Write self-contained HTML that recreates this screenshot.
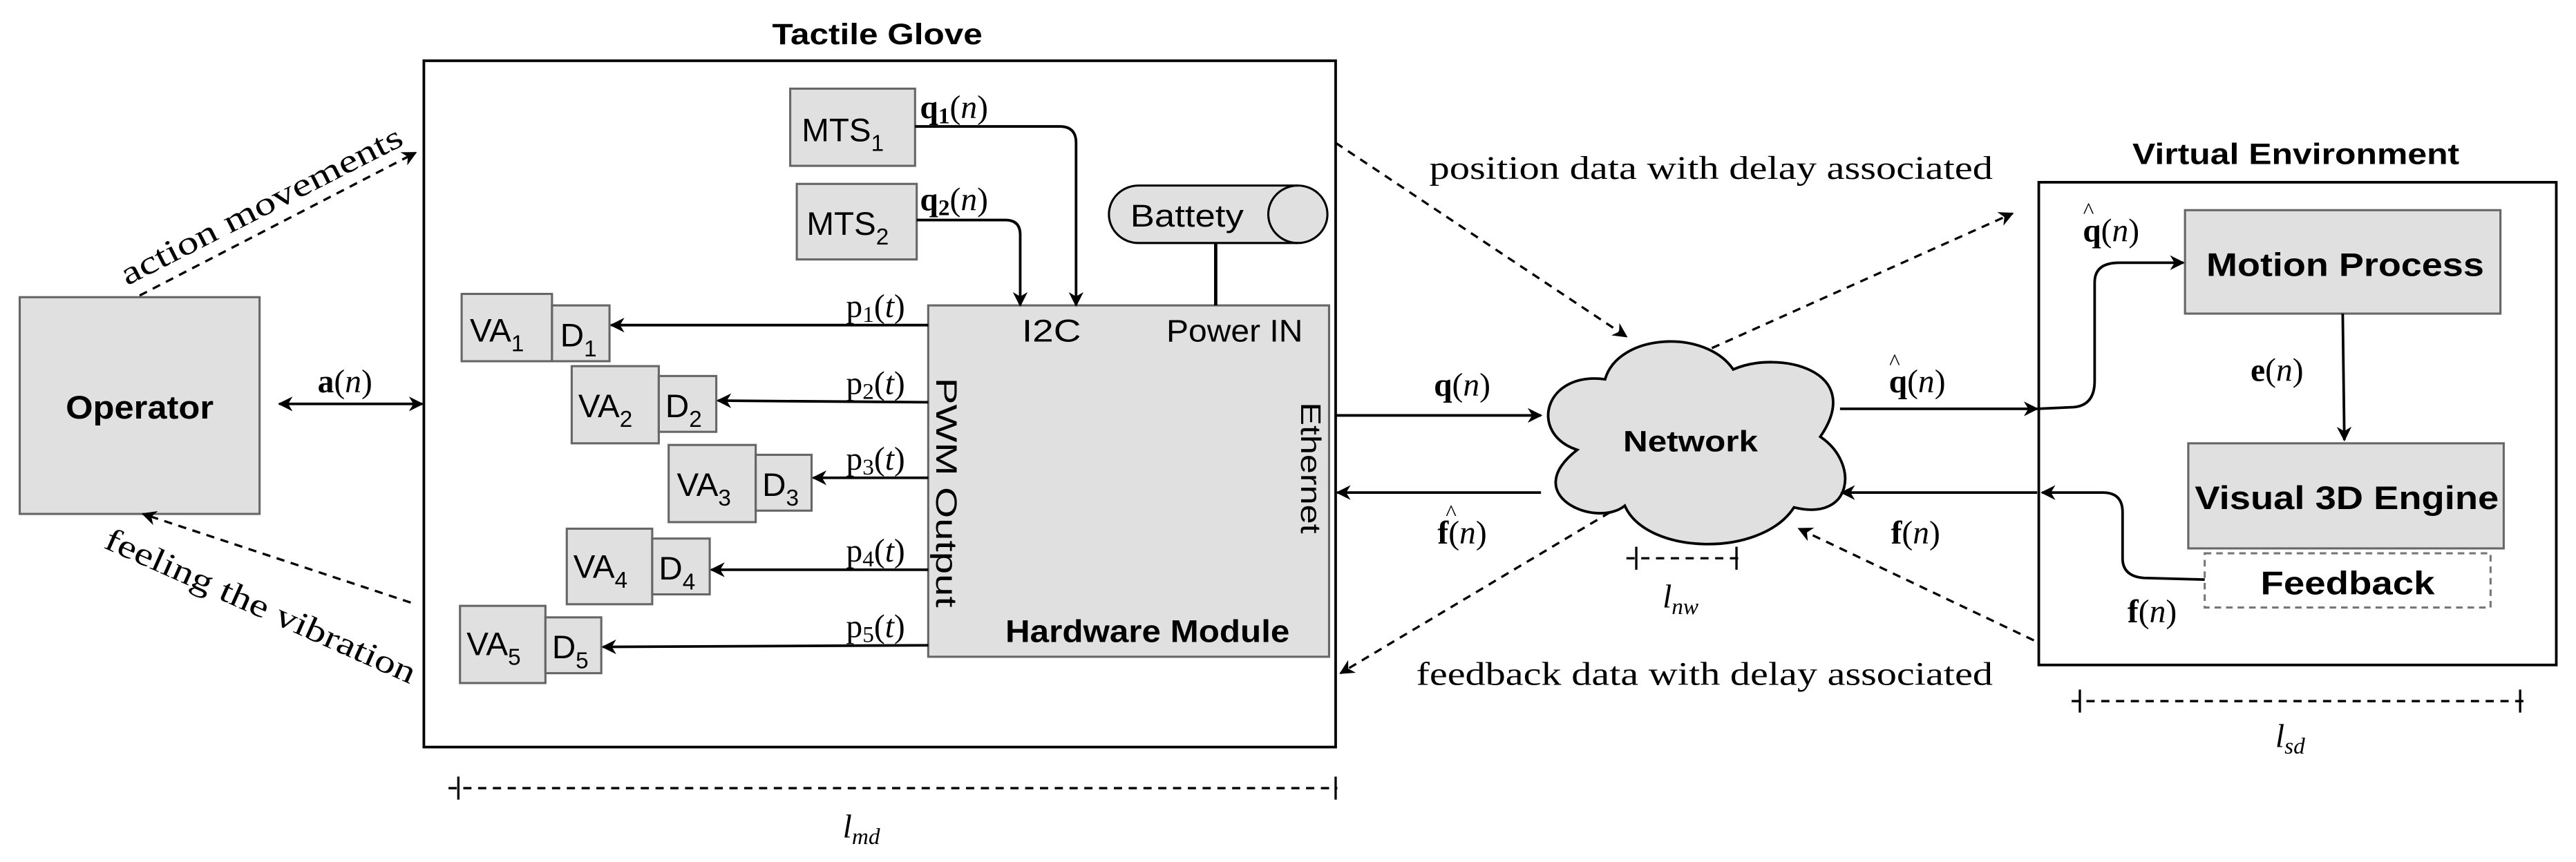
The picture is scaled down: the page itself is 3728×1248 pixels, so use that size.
<!DOCTYPE html>
<html><head><meta charset="utf-8"><style>
html,body{margin:0;padding:0;background:#fff;}
svg{display:block;}
.s{font-family:"Liberation Sans",sans-serif;}
.r{font-family:"Liberation Serif",serif;}
</style></head><body>
<svg width="3728" height="1248" viewBox="0 0 1568 525" preserveAspectRatio="none" xmlns="http://www.w3.org/2000/svg">
<defs>
<marker id="a" viewBox="0 0 10 10" refX="9" refY="5" markerWidth="9" markerHeight="9" markerUnits="userSpaceOnUse" orient="auto-start-reverse"><path d="M0,0 L10,5 L0,10 L3,5 z" fill="#000"/></marker>
</defs>
<rect width="1568" height="525" fill="#fff"/>
<g stroke="#666" stroke-width="1.3" fill="#e0e0e0">
<rect x="12" y="181" width="146" height="132"/>
<rect x="481" y="54" width="76" height="47"/>
<rect x="485" y="112" width="73" height="46"/>
<rect x="565" y="186" width="244" height="214"/>
<rect x="281" y="179" width="55" height="41"/><rect x="336" y="186" width="35" height="34"/>
<rect x="348" y="223" width="53" height="47"/><rect x="401" y="229" width="35" height="34"/>
<rect x="407" y="271" width="53" height="47"/><rect x="460" y="277" width="34" height="34"/>
<rect x="345" y="322" width="52" height="46"/><rect x="397" y="328" width="35" height="34"/>
<rect x="280" y="369" width="52" height="47"/><rect x="332" y="376" width="34" height="34"/>
<rect x="1330" y="128" width="192" height="63"/>
<rect x="1332" y="270" width="192" height="64"/>
</g>
<rect x="1342" y="337" width="174" height="33" fill="#fff" stroke="#777" stroke-width="1.3" stroke-dasharray="4,3"/>
<g fill="none" stroke="#000" stroke-width="1.6">
<rect x="258" y="37" width="555" height="418"/>
<rect x="1241" y="111" width="315" height="294"/>
</g>
<path d="M693,113 H790 A18,17.5 0 0 1 790,148 H693 A18,17.5 0 0 1 693,113 Z" fill="#e0e0e0" stroke="#000" stroke-width="1.3"/>
<path d="M790,113 A18,17.5 0 0 0 790,148" fill="none" stroke="#000" stroke-width="1.3"/>
<line x1="740" y1="148" x2="740" y2="186" stroke="#000" stroke-width="2"/>
<path d="M977,231 C985,203 1038,200 1055,225 C1082,213 1136,225 1108,266 C1132,282 1128,318 1092,309 C1072,340 1002,338 989,308 C972,322 924,302 960,274 C930,264 940,226 977,231 Z" fill="#e0e0e0" stroke="#000" stroke-width="1.6"/>
<g fill="none" stroke="#000" stroke-width="1.6" marker-end="url(#a)">
<path d="M557,77 H645 Q655,77 655,87 V186"/>
<path d="M558,134 H612 Q621,134 621,143 V186"/>
<line x1="565" y1="198" x2="372" y2="198"/>
<line x1="565" y1="245" x2="437" y2="244"/>
<line x1="565" y1="291" x2="495" y2="291"/>
<line x1="565" y1="347" x2="433" y2="347"/>
<line x1="565" y1="393" x2="367" y2="394"/>
<line x1="813" y1="253" x2="938" y2="253"/>
<line x1="938" y1="300" x2="814" y2="300"/>
<line x1="1120" y1="249" x2="1240" y2="249"/>
<path d="M1240,249 L1262,248 Q1275,247 1275,232 V172 Q1275,160 1290,160 H1329"/>
<line x1="1240" y1="300" x2="1121" y2="300"/>
<path d="M1342,353 L1305,352 Q1292,351 1292,340 V312 Q1292,300 1280,300 H1243"/>
<line x1="1426" y1="191" x2="1427" y2="268"/>
<line x1="170" y1="246" x2="257" y2="246" marker-start="url(#a)"/>
</g>
<g fill="none" stroke="#000" stroke-width="1.4" stroke-dasharray="5,4" marker-end="url(#a)">
<line x1="85" y1="180" x2="253" y2="93"/>
<line x1="250" y1="367" x2="87" y2="313"/>
<line x1="813" y1="87" x2="990" y2="205"/>
<line x1="1042" y1="212" x2="1225" y2="130"/>
<line x1="1238" y1="390" x2="1095" y2="322"/>
<line x1="980" y1="312" x2="816" y2="410"/>
</g>
<g fill="none" stroke="#000" stroke-width="1.4">
<line x1="273" y1="480" x2="814" y2="480" stroke-dasharray="5,4"/>
<line x1="279" y1="473" x2="279" y2="487"/><line x1="813" y1="473" x2="813" y2="487"/>
<line x1="990" y1="340" x2="1058" y2="340" stroke-dasharray="5,4"/>
<line x1="996" y1="333" x2="996" y2="347"/><line x1="1057" y1="333" x2="1057" y2="347"/>
<line x1="1261" y1="427" x2="1536" y2="427" stroke-dasharray="5,4"/>
<line x1="1266" y1="420" x2="1266" y2="434"/><line x1="1534" y1="420" x2="1534" y2="434"/>
</g>
<g class="s" fill="#000" lengthAdjust="spacingAndGlyphs">
<text x="470" y="27" font-size="18" font-weight="bold" textLength="128" lengthAdjust="spacingAndGlyphs">Tactile Glove</text>
<text x="1298" y="100" font-size="18" font-weight="bold" textLength="199" lengthAdjust="spacingAndGlyphs">Virtual Environment</text>
<text x="40" y="255" font-size="20" font-weight="bold" textLength="90" lengthAdjust="spacingAndGlyphs">Operator</text>
<text x="1343" y="168" font-size="20" font-weight="bold" textLength="169" lengthAdjust="spacingAndGlyphs">Motion Process</text>
<text x="1336" y="310" font-size="20" font-weight="bold" textLength="185" lengthAdjust="spacingAndGlyphs">Visual 3D Engine</text>
<text x="1376" y="362" font-size="20" font-weight="bold" textLength="106" lengthAdjust="spacingAndGlyphs">Feedback</text>
<text x="988" y="275" font-size="18" font-weight="bold" textLength="82" lengthAdjust="spacingAndGlyphs">Network</text>
<text x="612" y="391" font-size="19" font-weight="bold" textLength="173" lengthAdjust="spacingAndGlyphs">Hardware Module</text>
<text x="688" y="138" font-size="19" textLength="69" lengthAdjust="spacingAndGlyphs">Battety</text>
<text x="622" y="208" font-size="19" textLength="36" lengthAdjust="spacingAndGlyphs">I2C</text>
<text x="710" y="208" font-size="19" textLength="83" lengthAdjust="spacingAndGlyphs">Power IN</text>
<text x="488" y="86" font-size="20">MTS<tspan font-size="14" dy="6">1</tspan></text>
<text x="491" y="143" font-size="20">MTS<tspan font-size="14" dy="6">2</tspan></text>
<text x="286" y="208" font-size="20">VA<tspan font-size="14" dy="6">1</tspan></text>
<text x="341" y="211" font-size="20">D<tspan font-size="14" dy="6">1</tspan></text>
<text x="352" y="254" font-size="20">VA<tspan font-size="14" dy="6">2</tspan></text>
<text x="405" y="254" font-size="20">D<tspan font-size="14" dy="6">2</tspan></text>
<text x="412" y="302" font-size="20">VA<tspan font-size="14" dy="6">3</tspan></text>
<text x="464" y="302" font-size="20">D<tspan font-size="14" dy="6">3</tspan></text>
<text x="349" y="352" font-size="20">VA<tspan font-size="14" dy="6">4</tspan></text>
<text x="401" y="353" font-size="20">D<tspan font-size="14" dy="6">4</tspan></text>
<text x="284" y="399" font-size="20">VA<tspan font-size="14" dy="6">5</tspan></text>
<text x="336" y="401" font-size="20">D<tspan font-size="14" dy="6">5</tspan></text>
<text transform="translate(570,300) rotate(90)" font-size="18" text-anchor="middle" textLength="140" lengthAdjust="spacingAndGlyphs">PWM Output</text>
<text transform="translate(792,285) rotate(90)" font-size="17" text-anchor="middle" textLength="80" lengthAdjust="spacingAndGlyphs">Ethernet</text>
</g>
<g class="r" fill="#000" font-size="20">
<text transform="translate(162,131) rotate(-27)" text-anchor="middle" textLength="190" lengthAdjust="spacingAndGlyphs">action movements</text>
<text transform="translate(156,375) rotate(24)" text-anchor="middle" textLength="205" lengthAdjust="spacingAndGlyphs">feeling the vibration</text>
<text x="870" y="109" textLength="343" lengthAdjust="spacingAndGlyphs">position data with delay associated</text>
<text x="862" y="417" textLength="351" lengthAdjust="spacingAndGlyphs">feedback data with delay associated</text>
<text x="210" y="239" text-anchor="middle"><tspan font-weight="bold">a</tspan>(<tspan font-style="italic">n</tspan>)</text>
<text x="560" y="72"><tspan font-weight="bold">q<tspan font-size="14" dy="3">1</tspan></tspan><tspan dy="-3">(</tspan><tspan font-style="italic">n</tspan>)</text>
<text x="560" y="128"><tspan font-weight="bold">q<tspan font-size="14" dy="3">2</tspan></tspan><tspan dy="-3">(</tspan><tspan font-style="italic">n</tspan>)</text>
<text x="515" y="193">p<tspan font-size="14" dy="3">1</tspan><tspan dy="-3">(</tspan><tspan font-style="italic">t</tspan>)</text>
<text x="515" y="240">p<tspan font-size="14" dy="3">2</tspan><tspan dy="-3">(</tspan><tspan font-style="italic">t</tspan>)</text>
<text x="515" y="286">p<tspan font-size="14" dy="3">3</tspan><tspan dy="-3">(</tspan><tspan font-style="italic">t</tspan>)</text>
<text x="515" y="342">p<tspan font-size="14" dy="3">4</tspan><tspan dy="-3">(</tspan><tspan font-style="italic">t</tspan>)</text>
<text x="515" y="388">p<tspan font-size="14" dy="3">5</tspan><tspan dy="-3">(</tspan><tspan font-style="italic">t</tspan>)</text>
<text x="890" y="241" text-anchor="middle"><tspan font-weight="bold">q</tspan>(<tspan font-style="italic">n</tspan>)</text>
<text x="890" y="331" text-anchor="middle"><tspan font-weight="bold">f</tspan>(<tspan font-style="italic">n</tspan>)</text>
<text x="880" y="317" font-size="14">^</text>
<text x="1167" y="239" text-anchor="middle"><tspan font-weight="bold">q</tspan>(<tspan font-style="italic">n</tspan>)</text>
<text x="1150" y="225" font-size="14">^</text>
<text x="1285" y="147" text-anchor="middle"><tspan font-weight="bold">q</tspan>(<tspan font-style="italic">n</tspan>)</text>
<text x="1268" y="133" font-size="14">^</text>
<text x="1166" y="331" text-anchor="middle"><tspan font-weight="bold">f</tspan>(<tspan font-style="italic">n</tspan>)</text>
<text x="1310" y="379" text-anchor="middle"><tspan font-weight="bold">f</tspan>(<tspan font-style="italic">n</tspan>)</text>
<text x="1386" y="232" text-anchor="middle"><tspan font-weight="bold">e</tspan>(<tspan font-style="italic">n</tspan>)</text>
<text x="513" y="510" font-style="italic">l<tspan font-size="14" dy="4">md</tspan></text>
<text x="1012" y="370" font-style="italic">l<tspan font-size="14" dy="4">nw</tspan></text>
<text x="1385" y="455" font-style="italic">l<tspan font-size="14" dy="4">sd</tspan></text>
</g>
</svg>
</body></html>
